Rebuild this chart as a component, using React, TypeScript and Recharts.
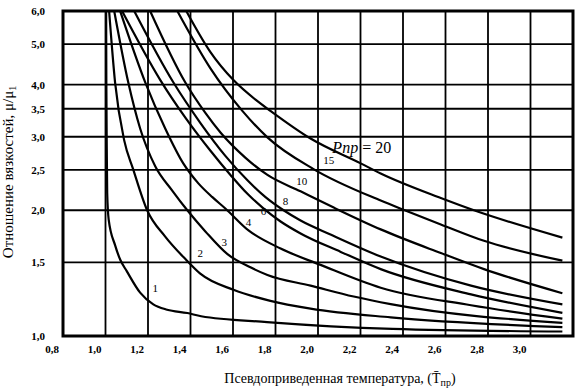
import { LineChart, Line, XAxis, YAxis, CartesianGrid, ReferenceArea, ReferenceDot, Label } from 'recharts'

const SERIF = 'Liberation Serif, DejaVu Serif, serif'

// axis ticks
const xTicks = [0.8, 1.0, 1.2, 1.4, 1.6, 1.8, 2.0, 2.2, 2.4, 2.6, 2.8, 3.0]
const yTicks = [1.0, 1.5, 2.0, 2.5, 3.0, 3.5, 4.0, 5.0, 6.0]

// isobars: pseudo-reduced temperature (t) vs viscosity ratio (mu)
const t1 = [1.003, 1.004, 1.006, 1.008, 1.015, 1.045, 1.07, 1.1, 1.163, 1.225, 1.29, 1.385, 1.45, 1.76, 2.35, 3.15]
const mu1 = [6.0, 4.0, 2.8, 2.2, 1.9, 1.65, 1.52, 1.43, 1.27, 1.19, 1.156, 1.135, 1.115, 1.08, 1.04, 1.025]

const t2 = [1.017, 1.045, 1.088, 1.13, 1.196, 1.281, 1.375, 1.446, 1.602, 1.776, 1.965, 2.342, 3.15]
const mu2 = [6.0, 4.05, 2.94, 2.51, 2.0, 1.73, 1.53, 1.41, 1.29, 1.214, 1.163, 1.108, 1.05]

const t3 = [1.041, 1.107, 1.163, 1.234, 1.314, 1.385, 1.47, 1.574, 1.682, 1.762, 1.965, 2.168, 2.342, 3.15]
const mu3 = [6.0, 4.05, 3.14, 2.55, 2.23, 2.0, 1.78, 1.57, 1.46, 1.4, 1.32, 1.243, 1.192, 1.075]

const t4 = [1.069, 1.187, 1.281, 1.366, 1.437, 1.503, 1.564, 1.673, 1.824, 2.012, 2.295, 2.72, 3.15]
const mu4 = [6.0, 4.05, 3.14, 2.59, 2.32, 2.15, 2.02, 1.79, 1.62, 1.48, 1.305, 1.185, 1.1]

const t6 = [1.078, 1.258, 1.38, 1.493, 1.588, 1.668, 1.739, 1.824, 1.918, 2.107, 2.295, 2.72, 3.15]
const mu6 = [6.0, 4.1, 3.31, 2.78, 2.43, 2.19, 2.03, 1.88, 1.76, 1.59, 1.446, 1.258, 1.136]

const t8 = [1.135, 1.319, 1.446, 1.564, 1.668, 1.753, 1.838, 1.918, 2.059, 2.295, 2.72, 3.15]
const mu8 = [6.0, 4.05, 3.24, 2.7, 2.36, 2.15, 2.0, 1.89, 1.75, 1.55, 1.32, 1.19]

const t10 = [1.21, 1.375, 1.47, 1.541, 1.659, 1.762, 1.918, 2.074, 2.295, 2.578, 2.781, 3.15]
const mu10 = [6.0, 4.05, 3.42, 3.07, 2.67, 2.43, 2.22, 2.03, 1.8, 1.58, 1.446, 1.266]

const t15 = [1.338, 1.493, 1.644, 1.762, 1.979, 2.295, 2.408, 2.578, 2.781, 3.15]
const mu15 = [6.0, 4.38, 3.46, 2.99, 2.51, 2.11, 2.0, 1.85, 1.69, 1.515]

const t20 = [1.38, 1.493, 1.602, 1.706, 1.776, 1.965, 2.201, 2.295, 2.578, 2.734, 3.15]
const mu20 = [6.0, 4.79, 4.1, 3.68, 3.46, 2.97, 2.59, 2.45, 2.14, 2.0, 1.72]

// curve labels
const labelText = ['1', '2', '3', '4', '6', '8', '10', '15']
const labelT = [1.234, 1.446, 1.559, 1.673, 1.743, 1.847, 1.923, 2.05]
const labelMu = [1.3, 1.58, 1.68, 1.87, 1.99, 2.1, 2.35, 2.64]

const series = [
  { p: 1, t: t1, mu: mu1 },
  { p: 2, t: t2, mu: mu2 },
  { p: 3, t: t3, mu: mu3 },
  { p: 4, t: t4, mu: mu4 },
  { p: 6, t: t6, mu: mu6 },
  { p: 8, t: t8, mu: mu8 },
  { p: 10, t: t10, mu: mu10 },
  { p: 15, t: t15, mu: mu15 },
  { p: 20, t: t20, mu: mu20 },
].map((s) => ({ p: s.p, data: s.t.map((t, i) => ({ t, mu: s.mu[i] })) }))

const fmt = (v: number) => v.toFixed(1).replace('.', ',')
const txt = { fontFamily: SERIF, fill: '#000' }

const XTick = ({ x, y, payload }: any) => (
  <text x={x - 11} y={y} dy={9} textAnchor="middle" style={{ ...txt, fontSize: 11, fontWeight: 700 }}>
    {fmt(payload.value)}
  </text>
)

const YTick = ({ x, y, payload }: any) => (
  <text x={x} y={y} dy={4} textAnchor="end" style={{ ...txt, fontSize: 11, fontWeight: 700 }}>
    {fmt(payload.value)}
  </text>
)

export default function App() {
  return (
    <div style={{ position: 'absolute', left: 0, top: 0, width: 585, height: 388, background: '#fff' }}>
      <LineChart width={585} height={388} margin={{ top: 11, right: 12, left: 0, bottom: 22 }}>
        <CartesianGrid stroke="#000" strokeWidth={1.8} />
        <XAxis
          dataKey="t"
          type="number"
          domain={[0.8, 3.2]}
          ticks={xTicks}
          allowDataOverflow
          height={30}
          tickSize={6}
          tickMargin={2}
          tickLine={false}
          axisLine={false}
          tick={<XTick />}
        >
          <Label
            content={() => (
              <text x={340} y={383} textAnchor="middle" style={{ ...txt, fontSize: 14 }}>
                Псевдоприведенная температура, (T̄
                <tspan fontSize={10} dy={3}>пр</tspan>
                <tspan dy={-3}>)</tspan>
              </text>
            )}
          />
        </XAxis>
        <YAxis
          dataKey="mu"
          type="number"
          scale="log"
          domain={[1, 6]}
          ticks={yTicks}
          allowDataOverflow
          width={63}
          tickSize={16}
          tickMargin={2}
          tickLine={false}
          axisLine={false}
          tick={<YTick />}
        >
          <Label
            content={() => (
              <text transform="translate(13,172) rotate(-90)" textAnchor="middle" style={{ ...txt, fontSize: 15 }}>
                Отношение вязкостей, μ/μ
                <tspan fontSize={10} dy={3}>1</tspan>
              </text>
            )}
          />
        </YAxis>
        {series.map((s) => (
          <Line
            key={s.p}
            data={s.data}
            dataKey="mu"
            type="monotone"
            stroke="#000"
            strokeWidth={2.2}
            dot={false}
            activeDot={false}
            isAnimationActive={false}
          />
        ))}
        {labelText.map((lbl, i) => (
          <ReferenceDot
            key={lbl}
            x={labelT[i]}
            y={labelMu[i]}
            r={0}
            shape={(props: any) => (
              <text x={props.cx} y={props.cy} dy={4} textAnchor="middle" style={{ ...txt, fontSize: 11 }}>
                {lbl}
              </text>
            )}
          />
        ))}
        <ReferenceDot
          x={2.206}
          y={2.84}
          r={0}
          shape={(props: any) => (
            <text x={props.cx} y={props.cy} dy={6} textAnchor="middle" style={{ ...txt, fontSize: 16 }}>
              <tspan fontStyle="italic">Рпр</tspan> = 20
            </text>
          )}
        />
        <ReferenceArea x1={0.8} x2={3.2} y1={1} y2={6} fill="none" stroke="#000" strokeWidth={3} />
      </LineChart>
    </div>
  )
}
